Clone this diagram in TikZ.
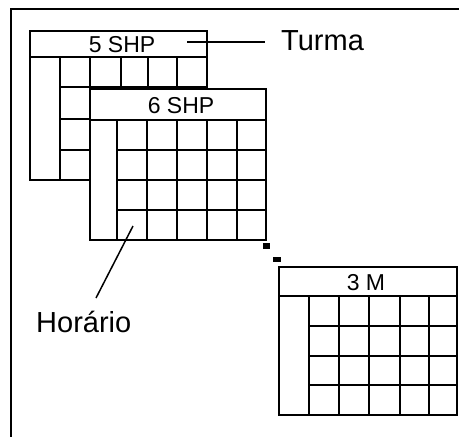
\documentclass[tikz,border=0pt]{standalone}
\usepackage{fontspec}
\setmainfont{Liberation Sans}
\begin{document}
\begin{tikzpicture}[x=1pt,y=-1pt,
  grid/.style={line width=2pt,draw=black,fill=white},
  gline/.style={line width=2pt},
  head/.style={font=\fontsize{23}{23}\selectfont,inner sep=0pt,anchor=center},
  lbl/.style={font=\fontsize{29}{29}\selectfont,inner sep=0pt},
  handle/.style={fill=black,draw=none}]
\useasboundingbox (0,0) rectangle (459,437);
% outer frame (only top and left visible)
\draw[line width=2pt] (459,9) -- (11,9) -- (11,437);
% table 1: 5 SHP
\draw[grid] (30,31) rectangle (207,180);
\draw[gline] (30,57) -- (207,57);
\foreach \x in {60,90,121,148,177} \draw[gline] (\x,57) -- (\x,180);
\foreach \y in {87,119,150} \draw[gline] (60,\y) -- (207,\y);
\node[head] (h1) at (122,45) {5 SHP};
% Turma leader
\coordinate (t1) at (187,42);
\coordinate (t2) at (265,42);
\node[lbl,anchor=west] (turma) at (281,41) {Turma};
\draw[line width=1.5pt] (t1) -- (t2);
% table 2: 6 SHP
\draw[grid] (90,89) rectangle (266,240);
\draw[gline] (90,120) -- (266,120);
\foreach \x in {117,147,177,207,237} \draw[gline] (\x,120) -- (\x,240);
\foreach \y in {150,180,210} \draw[gline] (117,\y) -- (266,\y);
\node[head] (h2) at (181,106) {6 SHP};
% table 3: 3 M
\draw[grid] (279,267) rectangle (457,415);
\draw[gline] (279,296) -- (457,296);
\foreach \x in {309,339,369,400,429} \draw[gline] (\x,296) -- (\x,415);
\foreach \y in {326,356,385} \draw[gline] (309,\y) -- (457,\y);
\node[head] (h3) at (366,283) {3 M};
% handles
\fill[handle] (263,243) rectangle (270,249);
\fill[handle] (273,257) rectangle (281,262);
% Horario leader
\coordinate (c1) at (133,226);
\coordinate (c2) at (96,298);
\node[lbl,anchor=west] (hor) at (36,322) {Horário};
\draw[line width=1.5pt] (c1) -- (c2);
\end{tikzpicture}
\end{document}
